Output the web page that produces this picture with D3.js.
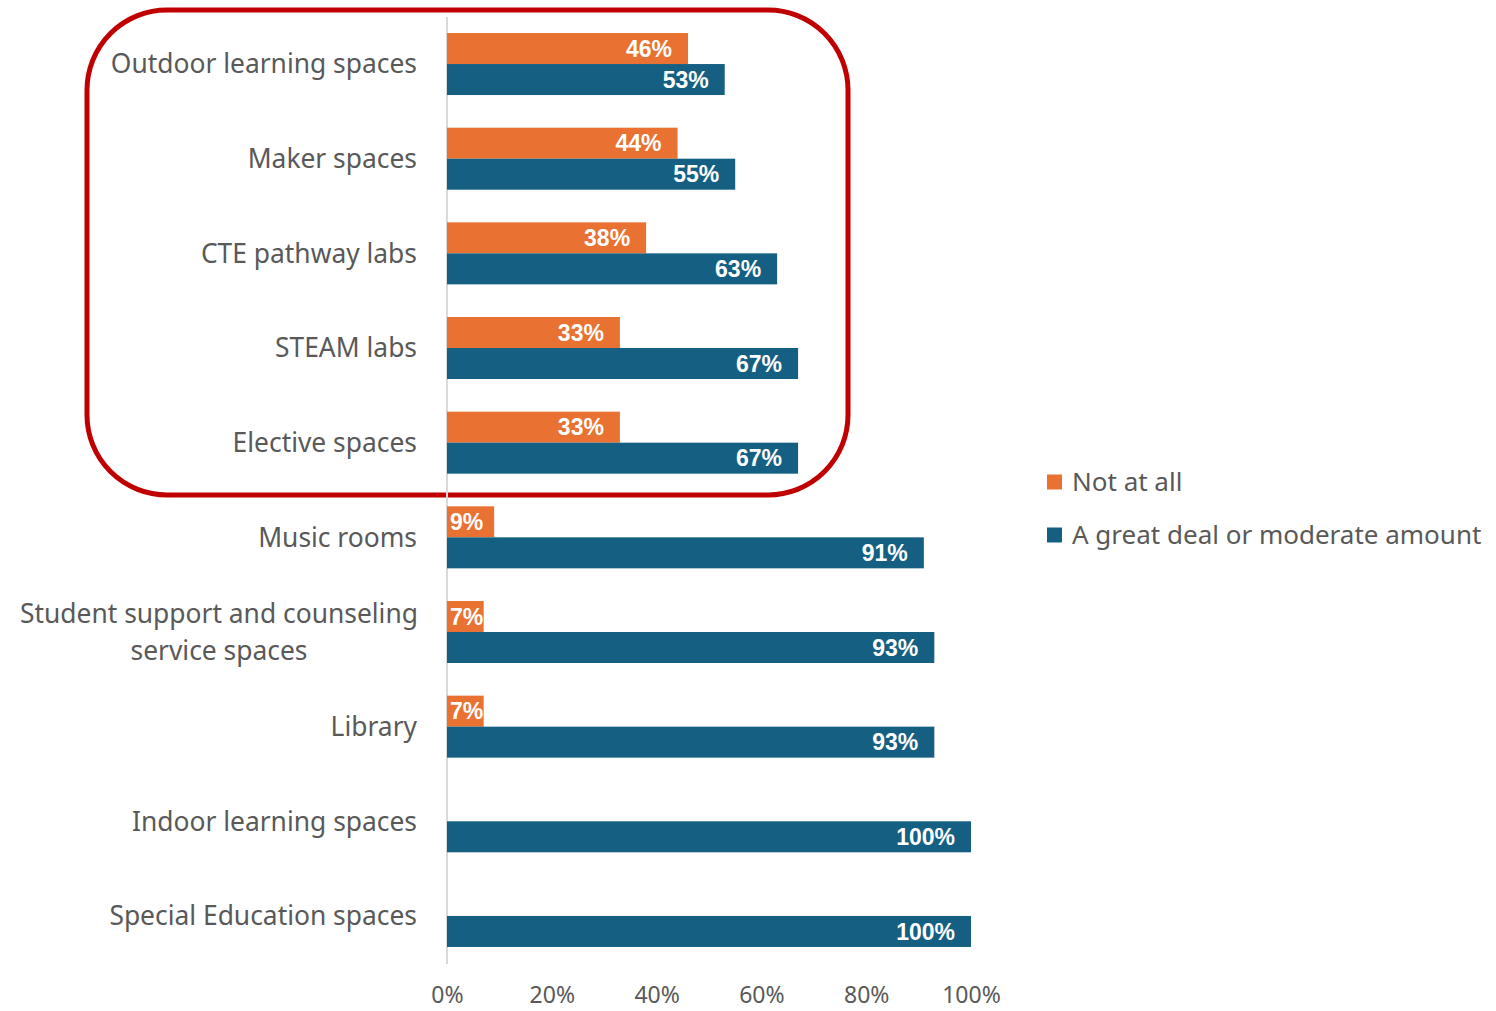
<!DOCTYPE html>
<html>
<head>
<meta charset="utf-8">
<script src="https://cdn.jsdelivr.net/npm/d3@7/dist/d3.min.js"></script>
<style>
  html, body { margin: 0; padding: 0; background: #fff; }
  svg { display: block; }
</style>
</head>
<body>
<svg id="chart" width="1496" height="1011"></svg>
<script>
const categories = [
  ["Outdoor learning spaces"],
  ["Maker spaces"],
  ["CTE pathway labs"],
  ["STEAM labs"],
  ["Elective spaces"],
  ["Music rooms"],
  ["Student support and counseling", "service spaces"],
  ["Library"],
  ["Indoor learning spaces"],
  ["Special Education spaces"]
];
const notAtAll = [46, 44, 38, 33, 33, 9, 7, 7, 0, 0];
const greatDeal = [53, 55, 63, 67, 67, 91, 93, 93, 100, 100];
const seriesNames = ["Not at all", "A great deal or moderate amount"];
const tickValues = [0, 20, 40, 60, 80, 100];

const colors = ["#E97132", "#156082"];
const svg = d3.select("#chart");

const x = d3.scaleLinear().domain([0, 100]).range([447, 971]);
const y = d3.scaleBand().domain(d3.range(categories.length)).range([16.7, 963.3]).paddingInner(0.345).paddingOuter(0.1725);
const bw = y.bandwidth() / 2;

// red rounded highlight box
svg.append("rect")
  .attr("x", 87).attr("y", 10)
  .attr("width", 761).attr("height", 485)
  .attr("rx", 80).attr("ry", 80)
  .attr("fill", "none").attr("stroke", "#C00000").attr("stroke-width", 5);

// axis line
svg.append("line")
  .attr("x1", x(0)).attr("x2", x(0))
  .attr("y1", 17).attr("y2", 964)
  .attr("stroke", "#D9D9D9").attr("stroke-width", 2);

const series = [notAtAll, greatDeal];
series.forEach((vals, si) => {
  const g = svg.append("g");
  g.selectAll("rect").data(vals).join("rect")
    .attr("x", x(0))
    .attr("y", (d, i) => y(i) + si * bw)
    .attr("width", d => x(d) - x(0))
    .attr("height", bw)
    .attr("fill", colors[si]);

  g.selectAll("text").data(vals.map((v, i) => ({v, i})).filter(d => d.v > 0)).join("text")
    .attr("y", d => y(d.i) + si * bw + bw / 2)
    .attr("dy", "0.36em")
    .attr("fill", "#fff")
    .attr("font-family", "'Liberation Sans', Arial, sans-serif")
    .attr("font-weight", "bold")
    .attr("font-size", 23)
    .text(d => d.v + "%")
    .each(function(d) {
      const w = this.getComputedTextLength();
      let end = x(d.v) - 16;
      if (end - w < x(0) + 3) end = x(0) + 3 + w;
      d3.select(this).attr("x", end).attr("text-anchor", "end");
    });
});

// category labels
const labels = svg.append("g")
  .attr("font-family", "'Noto Sans', 'Open Sans', sans-serif")
  .attr("font-size", 26.4)
  .attr("fill", "#595959")
  .attr("text-anchor", "end");
categories.forEach((lines, i) => {
  const cy = y(i) + y.bandwidth() / 2;
  const lh = 37;
  const t = labels.append("text").attr("x", 417).attr("y", cy);
  lines.forEach((ln, k) => {
    t.append("tspan")
      .attr("x", lines.length > 1 ? 219 : 417)
      .attr("text-anchor", lines.length > 1 ? "middle" : "end")
      .attr("y", cy + (k - (lines.length - 1) / 2) * lh)
      .attr("dy", "0.35em")
      .text(ln);
  });
});

// x axis tick labels
const axis = d3.axisBottom(x).tickValues(tickValues).tickFormat(d => d + "%").tickSize(0).tickPadding(0);
const ag = svg.append("g").attr("transform", "translate(0, 987)").call(axis);
ag.select(".domain").remove();
ag.selectAll("text")
  .attr("dy", "0.71em")
  .attr("font-family", "'Noto Sans', 'Open Sans', sans-serif")
  .attr("font-size", 23)
  .attr("fill", "#595959");

// legend
const lg = svg.append("g");
seriesNames.forEach((name, i) => {
  const ly = 482 + i * 53;
  lg.append("rect").attr("x", 1047).attr("y", ly - 7.5).attr("width", 15).attr("height", 15).attr("fill", colors[i]);
  lg.append("text").attr("x", 1072).attr("y", ly).attr("dy", "0.35em")
    .attr("font-family", "'Noto Sans', 'Open Sans', sans-serif")
    .attr("font-size", 26).attr("fill", "#595959").text(name);
});
</script>
</body>
</html>
